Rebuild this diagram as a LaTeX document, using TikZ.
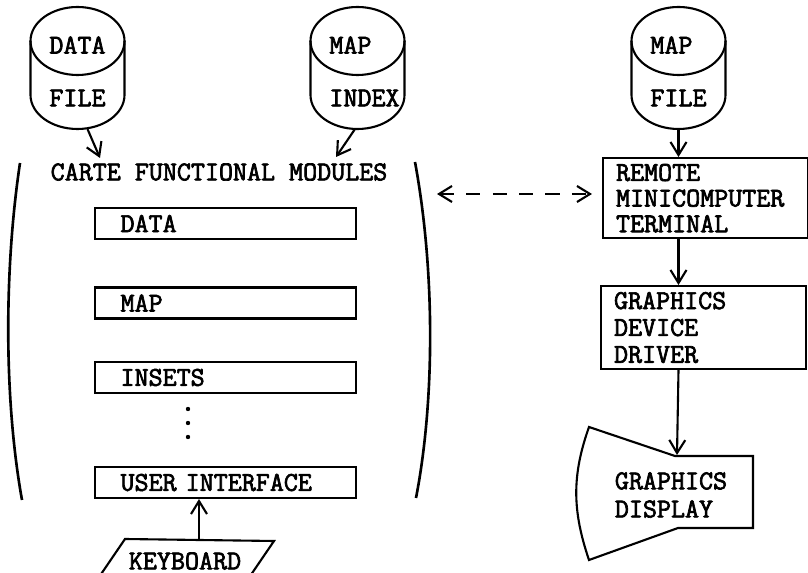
\documentclass[tikz,border=0pt]{standalone}
\usepackage{fontspec}
\newfontfamily\typer[FakeBold=2.5]{Latin Modern Mono}
\usetikzlibrary{arrows.meta}

% disk file: name, centre x, upper label, lower label
\newcommand{\diskfile}[4]{
  \draw (#2,41) ellipse [x radius=47, y radius=34];
  \draw (#2-47,41) -- (#2-47,95) arc [start angle=180, end angle=0, x radius=47, y radius=34] -- (#2+47,41);
  \node[minimum width=1.88cm, minimum height=2.42cm] (#1) at (#2,67.5) {};
  \node[anchor=west] (#1-top) at (#2-35,45) {#3};
  \node[anchor=west] (#1-bot) at (#2-35,98) {#4};
}

\tikzset{
  flow/.style={-{Straight Barb[length=2.6mm,width=3.2mm]}},
  modbox/.style={draw, anchor=west, text width=4.2cm, inner xsep=0.51cm, minimum height=0.62cm, align=left},
  rbox/.style={draw, anchor=north west, text width=3.58cm, inner xsep=0.26cm, align=left},
}

\begin{document}
\begin{tikzpicture}[x=0.02cm, y=-0.02cm, line width=1.2pt, font=\typer\fontsize{15.5}{15.3}\selectfont]
    \useasboundingbox (0,0) rectangle (808,573);

    % files
    \diskfile{datafile}{77.5}{DATA}{FILE}
    \diskfile{mapindex}{357.5}{MAP}{INDEX}
    \diskfile{mapfile}{678.5}{MAP}{FILE}

    % modules
    \node (carte) at (219,172) {CARTE FUNCTIONAL MODULES};
    \draw[line width=1.5pt] (20,163) .. controls (4,270) and (4,400) .. (22,500);
    \draw[line width=1.5pt] (415,162) .. controls (435,270) and (435,400) .. (416,498);

    \foreach \name/\txt/\y in {data/DATA/223.5, map/MAP/303, insets/INSETS/377.5, ui/USER INTERFACE/482.5}{
      \node[modbox] (\name) at (94,\y) {\txt};
    }
    \foreach \y in {409,423,437}{
      \fill (188,\y) circle (2.2);
    }

    \coordinate (dataIn) at (100,158);
    \coordinate (indexIn) at (336,157);
    \draw[flow] ([xshift=0.2cm]datafile.south) -- (dataIn);
    \draw[flow] ([xshift=-0.05cm]mapindex.south) -- (indexIn);

    % keyboard
    \draw (125,539) -- (274,541) -- (244,585) -- (95,583) -- cycle;
    \node (keyboard) at (185,561) {KEYBOARD};
    \coordinate (kbTop) at (199,540);
    \draw[flow] (kbTop) -- (ui.south -| kbTop);

    % remote side
    \node[rbox, minimum height=1.48cm, font=\typer\fontsize{15.5}{14.6}\selectfont] (remote) at (602,157) {REMOTE\\MINICOMPUTER\\TERMINAL};
    \node[rbox, minimum height=1.66cm] (graphics) at (600,285) {GRAPHICS\\DEVICE\\DRIVER};

    \coordinate (modR) at (437,194);
    \draw[{Straight Barb[length=2.6mm,width=3.2mm]}-{Straight Barb[length=2.6mm,width=3.2mm]}, dash pattern=on 8pt off 7pt, shorten >=2mm] (modR) -- (remote.west |- modR);

    \draw[flow] (mapfile.south) -- (remote.north -| mapfile.south);
    \draw[flow] (remote.south -| mapfile) -- (graphics.north -| mapfile);

    % screen
    \draw (589,427) -- (675,456) -- (753,456) -- (753,528) -- (678,528) -- (589,560)
      .. controls (572,510) and (572,475) .. cycle;
    \node[align=left, font=\typer\fontsize{15.5}{16}\selectfont] (display) at (671,495) {GRAPHICS\\DISPLAY};
    \coordinate (dispIn) at (677,455);
    \draw[flow] (graphics.south -| mapfile) -- (dispIn);

  \end{tikzpicture}
\end{document}
